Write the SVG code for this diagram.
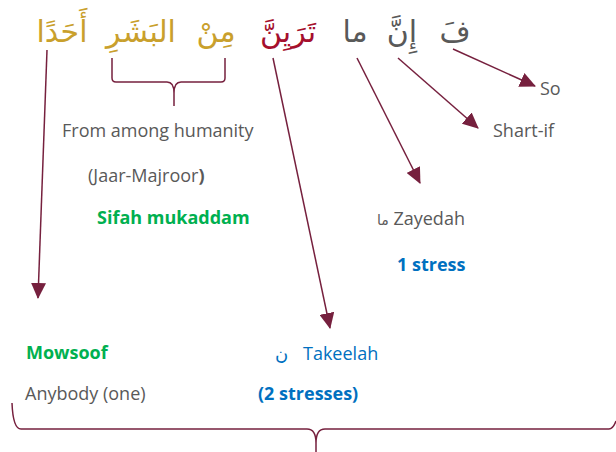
<svg xmlns="http://www.w3.org/2000/svg" width="616" height="452" viewBox="0 0 616 452">
<style>
.ar{font-family:"DejaVu Sans",sans-serif;font-size:30px;text-anchor:middle;direction:rtl}
.gold{fill:#C9A02C}
.red{fill:#A50F2D}
.gray{fill:#595959}
.t{font-family:"Open Sans","Liberation Sans",sans-serif;font-size:18px;fill:#595959}
.b{font-weight:bold}
.green{fill:#00B050}
.blue{fill:#0070C0}
.ln{fill:none;stroke:#76203E;stroke-width:1.5}
</style>
<defs>
<marker id="ah" viewBox="0 0 16 15" refX="15" refY="7.5" markerWidth="16" markerHeight="15" markerUnits="userSpaceOnUse" orient="auto">
<path d="M0,0 L16,7.5 L0,15 z" fill="#76203E"/>
</marker>
</defs>
<g id="w-fa"><text class="ar gray" x="455" y="42">فَ</text></g>
<g id="w-inna"><text class="ar gray" x="402" y="42">إِنَّ</text></g>
<g id="w-ma"><text class="ar gray" x="355" y="42">ما</text></g>
<g id="w-tarayinna"><text class="ar red" x="288" y="42">تَرَيِنَّ</text></g>
<g id="w-min"><text class="ar gold" x="216" y="42">مِنْ</text></g>
<g id="w-bashar"><text class="ar gold" x="141" y="42">البَشَرِ</text></g>
<g id="w-ahad"><text class="ar gold" x="62" y="42">أَحَدًا</text></g>
<g id="connectors">
<line class="ln" x1="453" y1="49" x2="535" y2="86" marker-end="url(#ah)"/>
<line class="ln" x1="398" y1="58" x2="478" y2="128" marker-end="url(#ah)"/>
<line class="ln" x1="357" y1="58" x2="420" y2="183" marker-end="url(#ah)"/>
<line class="ln" x1="273" y1="58" x2="330" y2="328" marker-end="url(#ah)"/>
<line class="ln" x1="47" y1="50" x2="38" y2="298" marker-end="url(#ah)"/>
<path class="ln" d="M112,58 L112,78 Q112,82 116,82 L167,82 Q174,82 174,93 L174,106 M174,93 Q174,82 181,82 L221,82 Q225,82 225,78 L225,58"/>
<path class="ln" d="M12,403 Q13,429 21,429 L307,429 Q316,429 316,443 L316,452 M316,443 Q316,429 325,429 L609,429 Q613,429 616,421"/>
</g>
<g id="n-so"><text class="t" x="540" y="95">So</text></g>
<g id="n-shartif"><text class="t" x="493" y="137">Shart-if</text></g>
<g id="n-humanity">
<text class="t" x="62" y="137">From among humanity</text>
<text class="t" x="88" y="182">(Jaar-Majroor<tspan class="b">)</tspan></text>
<text class="t b green" x="97" y="224">Sifah mukaddam</text>
</g>
<g id="n-zayedah">
<text class="t" x="377" y="225"><tspan font-family="DejaVu Sans" font-size="14">ما</tspan> Zayedah</text>
<text class="t b blue" x="397" y="271">1 stress</text>
</g>
<g id="n-takeelah">
<text class="t blue" x="275" y="360" font-family="DejaVu Sans" font-size="15">ن</text>
<text class="t blue" x="303" y="360">Takeelah</text>
<text class="t b blue" x="258" y="400">(2 stresses)</text>
</g>
<g id="n-mowsoof">
<text class="t b green" x="26" y="359">Mowsoof</text>
<text class="t" x="25" y="400">Anybody (one)</text>
</g>
</svg>
